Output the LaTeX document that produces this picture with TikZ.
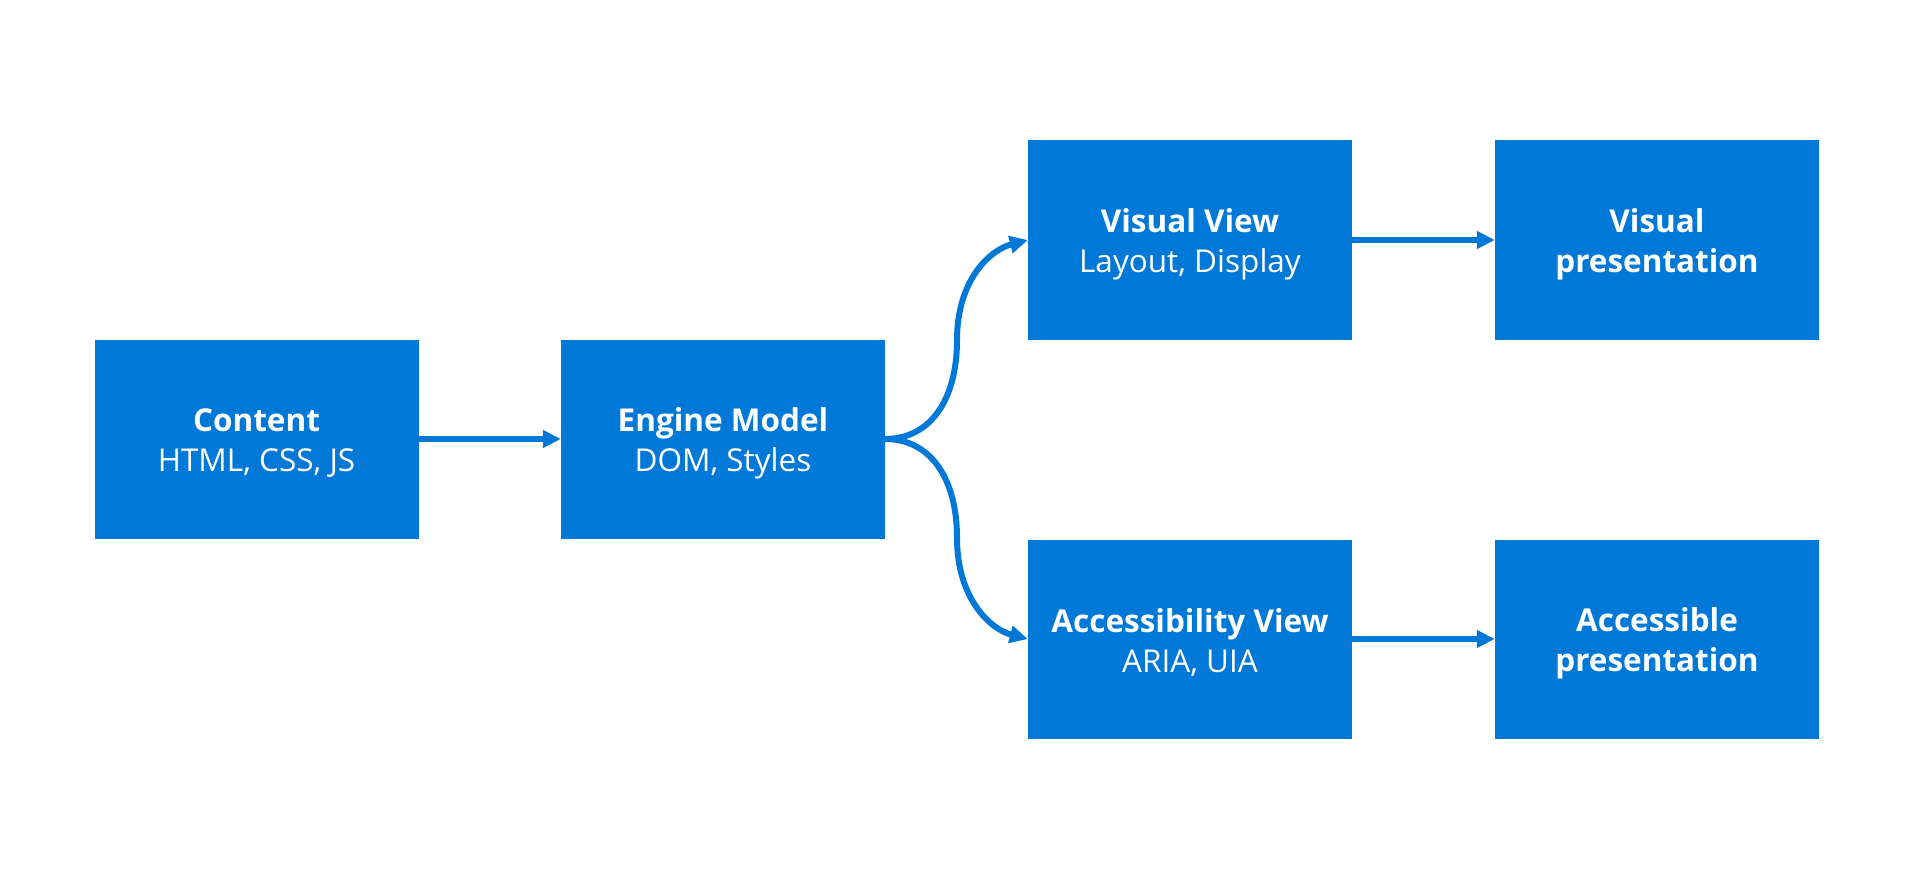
\documentclass[tikz,border=0pt]{standalone}
\usepackage{fontspec}
\setmainfont{Open Sans}
\usetikzlibrary{arrows.meta}
\definecolor{msblue}{HTML}{0078D7}
\begin{document}
\begin{tikzpicture}[x=1pt,y=-1pt,
  txt/.style={align=center, text=white, inner sep=0pt, font=\fontsize{31.5}{40}\selectfont},
  box/.style={fill=msblue, minimum width=324pt, minimum height=199pt, inner sep=0pt,
    label={[txt, yshift=-4pt]center:{#1}}},
  conn/.style={draw=msblue, line width=6pt, -{Triangle[length=18pt,width=17pt]}}]
\useasboundingbox (0,0) rectangle (1914,880);
\node[box={\textbf{Content}\\HTML, CSS, JS}] (c)  at (256.5,439) {};
\node[box={\textbf{Engine Model}\\DOM, Styles}] (e)  at (723,439) {};
\node[box={\textbf{Visual View}\\Layout, Display}] (vv) at (1190,240) {};
\node[box={\textbf{Visual}\\\textbf{presentation}}] (vp) at (1657,240) {};
\node[box={\textbf{Accessibility View}\\ARIA, UIA}] (av) at (1190,639) {};
\node[box={\textbf{Accessible}\\\textbf{presentation}}] (ap) at (1657,639) {};
\coordinate (mt) at (957,340);
\coordinate (mb) at (957,538);
\draw[conn] (c.east) -- (e.west);
\draw[conn] (vv.east) -- (vp.west);
\draw[conn] (av.east) -- (ap.west);
\draw[conn] (e.east) .. controls +(45,0) and +(0,60) .. (mt) .. controls +(0,-60) and +(-38,10) .. (vv.west);
\draw[conn] (e.east) .. controls +(45,0) and +(0,-60) .. (mb) .. controls +(0,60) and +(-38,-10) .. (av.west);
\end{tikzpicture}
\end{document}
